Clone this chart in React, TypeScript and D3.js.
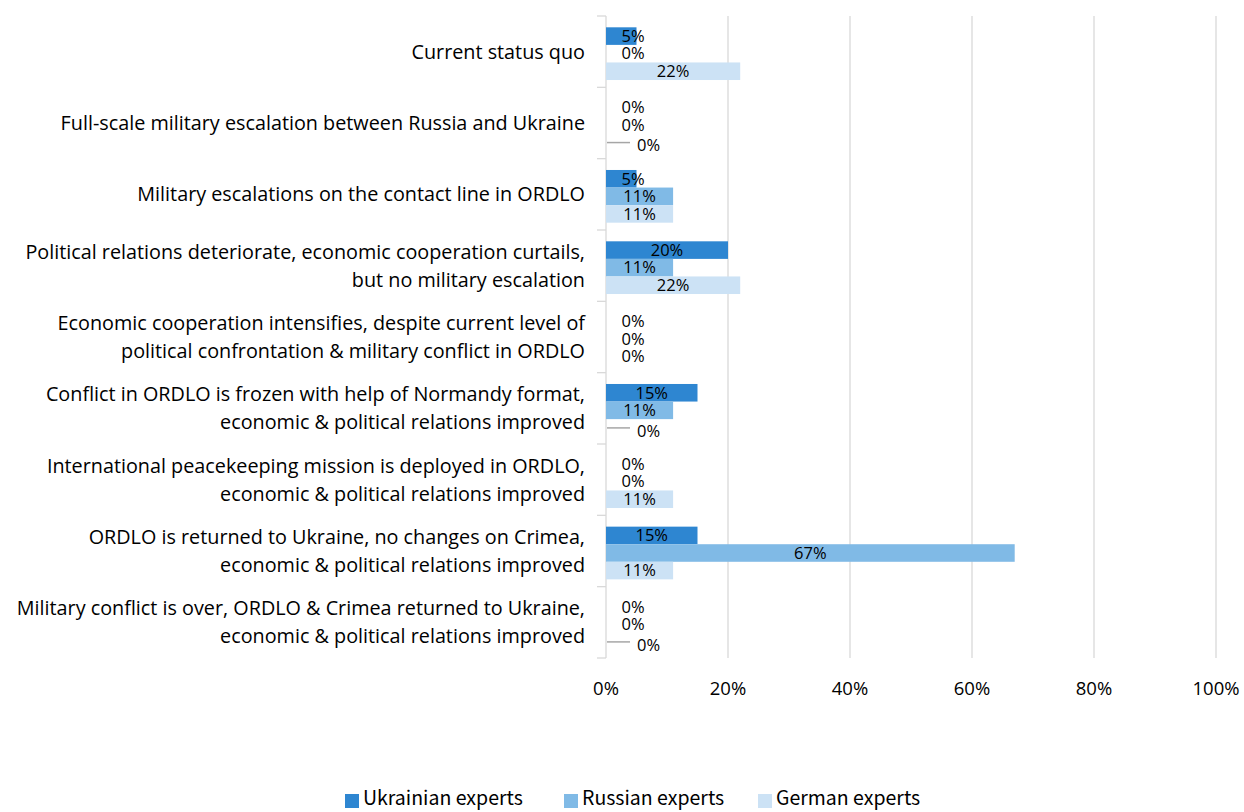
import React from "react";
import * as d3 from "d3";

// chart values
const categories = [
  ["Current status quo"],
  ["Full-scale military escalation between Russia and Ukraine"],
  ["Military escalations on the contact line in ORDLO"],
  ["Political relations deteriorate, economic cooperation curtails,", "but no military escalation"],
  ["Economic cooperation intensifies, despite current level of", "political confrontation & military conflict in ORDLO"],
  ["Conflict in ORDLO is frozen with help of Normandy format,", "economic & political relations improved"],
  ["International peacekeeping mission is deployed in ORDLO,", "economic & political relations improved"],
  ["ORDLO is returned to Ukraine, no changes on Crimea,", "economic & political relations improved"],
  ["Military conflict is over, ORDLO & Crimea returned to Ukraine,", "economic & political relations improved"],
];
const ukrainian = [5, 0, 5, 20, 0, 15, 0, 15, 0];
const russian = [0, 0, 11, 11, 0, 11, 0, 67, 0];
const german = [22, 0, 11, 22, 0, 0, 11, 11, 0];
const seriesNames = ["Ukrainian experts", "Russian experts", "German experts"];
const xTicks = [0, 20, 40, 60, 80, 100];
// German zero labels that Excel draws with a leader line
const germanLeaders = [1, 5, 8];

const colors = ["#2E86D1", "#80BAE6", "#CCE2F5"];
const font = "'Open Sans', sans-serif";

const App = () => {
  const width = 1244;
  const height = 812;
  const margin = { top: 16, right: 28, bottom: 154, left: 606 };
  const series = [ukrainian, russian, german];

  const x = d3.scaleLinear().domain([0, 100]).range([margin.left, width - margin.right]);
  const y = d3
    .scaleBand<number>()
    .domain(categories.map((_, i) => i))
    .range([margin.top, height - margin.bottom]);
  const inner = d3
    .scaleBand<number>()
    .domain([0, 1, 2])
    .range([2, y.bandwidth() + 2])
    .paddingOuter(0.53);

  const bottom = height - margin.bottom;

  return (
    <svg
      width={width}
      height={height}
      style={{ position: "absolute", left: 0, top: 0, background: "#fff" }}
      fontFamily={font}
    >
      {/* gridlines */}
      {xTicks.slice(1).map((t) => (
        <line key={t} x1={x(t)} x2={x(t)} y1={margin.top} y2={bottom} stroke="#D9D9D9" strokeWidth={1.3} />
      ))}
      {/* category axis */}
      <line x1={x(0)} x2={x(0)} y1={margin.top} y2={bottom} stroke="#D9D9D9" strokeWidth={1.3} />
      {d3.range(categories.length + 1).map((i) => {
        const yy = i < categories.length ? y(i)! : bottom;
        return <line key={i} x1={x(0) - 9} x2={x(0)} y1={yy} y2={yy} stroke="#D9D9D9" strokeWidth={1.3} />;
      })}
      {/* category labels */}
      {categories.map((lines, i) => {
        const cy = y(i)! + y.bandwidth() / 2;
        const lh = 28;
        return (
          <text key={i} textAnchor="end" fontSize={19.8} fill="#000">
            {lines.map((l, j) => (
              <tspan key={j} x={585} y={cy + (j - (lines.length - 1) / 2) * lh} dy="0.35em">
                {l}
              </tspan>
            ))}
          </text>
        );
      })}
      {/* bars + labels */}
      {series.map((vals, s) =>
        vals.map((v, i) => {
          const by = y(i)! + inner(s)!;
          const bh = inner.bandwidth();
          const cy = by + bh / 2;
          const leader = s === 2 && v === 0 && germanLeaders.includes(i);
          const lx = Math.max((x(0) + x(v)) / 2, x(0) + 27);
          return (
            <g key={`${s}-${i}`}>
              {v > 0 && <rect x={x(0)} y={by} width={x(v) - x(0)} height={bh} fill={colors[s]} />}
              {leader && <line x1={x(0) + 1} x2={x(0) + 24} y1={cy} y2={cy} stroke="#A6A6A6" strokeWidth={1.5} />}
              <text
                x={leader ? x(0) + 31 : lx}
                y={cy + (leader ? 3 : 0)}
                dy="0.35em"
                textAnchor={leader ? "start" : "middle"}
                fontSize={16.5}
                fill="#000"
              >
                {v}%
              </text>
            </g>
          );
        })
      )}
      {/* x tick labels */}
      {xTicks.map((t) => (
        <text key={t} x={x(t)} y={689} dy="0.35em" textAnchor="middle" fontSize={18.5} fill="#000">
          {t}%
        </text>
      ))}
      {/* legend */}
      {seriesNames.map((n, s) => {
        const lx = [345, 564, 758][s];
        return (
          <g key={n} fontFamily="'Noto Sans CJK KR', 'Noto Sans', sans-serif">
            <rect x={lx} y={794} width={14} height={14} fill={colors[s]} />
            <text x={lx + 18} y={805} fontSize={19.5} fill="#000">
              {n}
            </text>
          </g>
        );
      })}
    </svg>
  );
};

export default App;
